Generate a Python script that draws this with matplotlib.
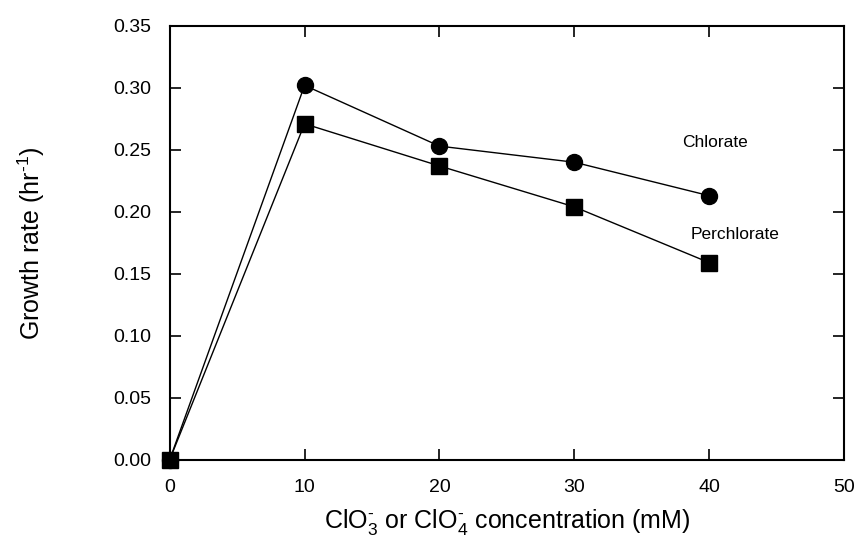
import matplotlib
matplotlib.use("Agg")
import matplotlib.pyplot as plt

plt.rcParams['font.family'] = ['Liberation Sans', 'DejaVu Sans']
plt.rcParams['mathtext.fontset'] = 'custom'
plt.rcParams['mathtext.rm'] = 'Liberation Sans'
plt.rcParams['mathtext.it'] = 'Liberation Sans'
plt.rcParams['mathtext.default'] = 'regular'

# data
conc = [0, 10, 20, 30, 40]
chlorate = [0.0, 0.302, 0.253, 0.240, 0.213]
perchlorate = [0.0, 0.271, 0.237, 0.204, 0.159]

fig = plt.figure(figsize=(8.57, 5.39), dpi=100)
ax = fig.add_axes([0.198, 0.147, 0.787, 0.805])

ax.plot(conc, chlorate, color='black', lw=1.0, marker='o', markersize=11.5,
        zorder=3, clip_on=False)
ax.plot(conc, perchlorate, color='black', lw=1.0, marker='s', markersize=11.5,
        zorder=3, clip_on=False)

ax.text(40.4, 0.256, 'Chlorate', fontsize=12.5, ha='center', va='center')
ax.text(41.9, 0.182, 'Perchlorate', fontsize=12.5, ha='center', va='center')

ax.set_xlim(0, 50)
ax.set_ylim(0, 0.35)
ax.set_xticks([0, 10, 20, 30, 40, 50])
ax.set_yticks([0, 0.05, 0.10, 0.15, 0.20, 0.25, 0.30, 0.35])
ax.set_yticklabels(['%.2f' % v for v in ax.get_yticks()])
ax.tick_params(direction='in', length=8, width=1.2, top=True, right=True,
               labelsize=14)
ax.tick_params(axis='x', pad=14)
ax.tick_params(axis='y', pad=13)
for s in ax.spines.values():
    s.set_linewidth(1.5)

ax.set_xlabel(r'ClO$_3^{\text{-}}$ or ClO$_4^{\text{-}}$ concentration (mM)',
              fontsize=18, labelpad=8)
ax.set_ylabel(r'Growth rate (hr$^{\text{-}1}$)', fontsize=18, labelpad=48)

plt.savefig('out.png', dpi=100)
